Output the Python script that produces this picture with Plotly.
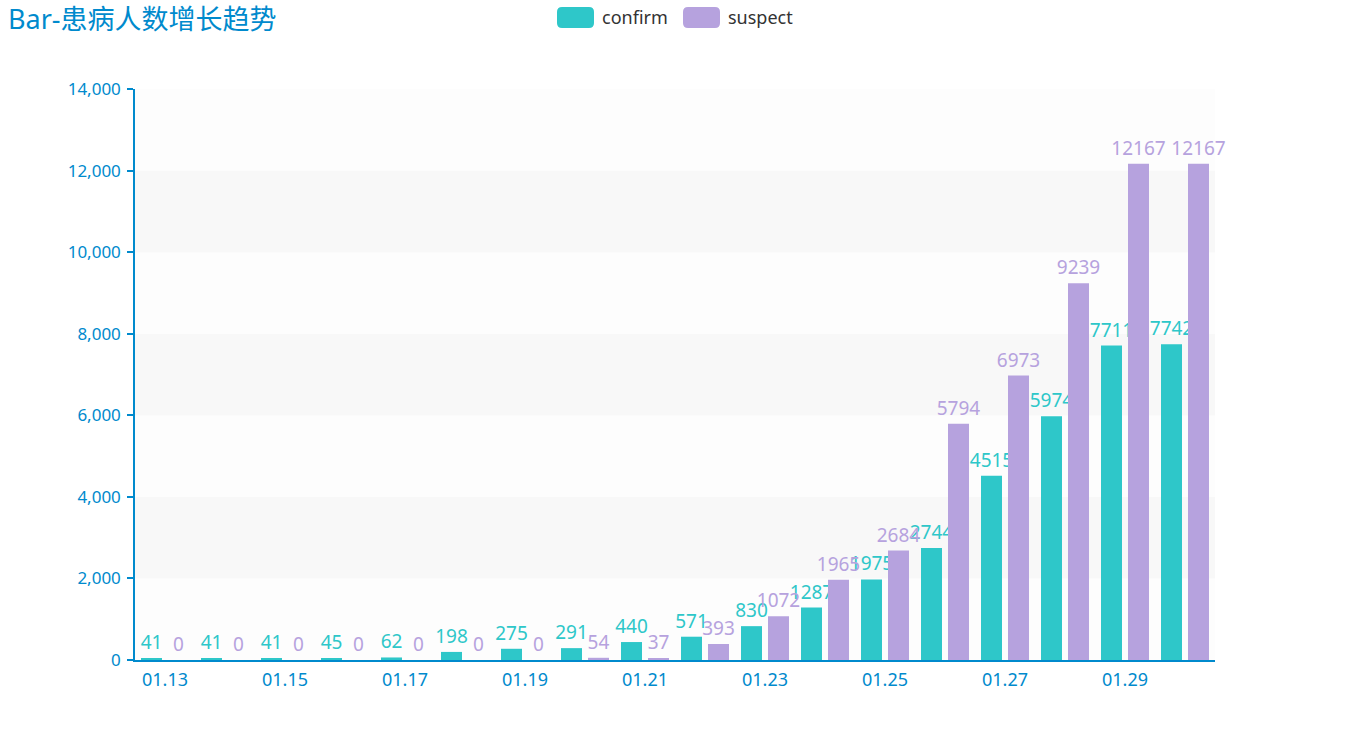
import plotly.graph_objects as go

categories = ["01.13", "01.14", "01.15", "01.16", "01.17", "01.18", "01.19", "01.20", "01.21",
              "01.22", "01.23", "01.24", "01.25", "01.26", "01.27", "01.28", "01.29", "01.30"]
confirm = [41, 41, 41, 45, 62, 198, 275, 291, 440, 571, 830, 1287, 1975, 2744, 4515, 5974, 7711, 7742]
suspect = [0, 0, 0, 0, 0, 0, 0, 54, 37, 393, 1072, 1965, 2684, 5794, 6973, 9239, 12167, 12167]
y_ticks = [0, 2000, 4000, 6000, 8000, 10000, 12000, 14000]

C_CONFIRM = "#2ec7c9"
C_SUSPECT = "#b6a2de"
AXIS = "#008acd"
FONT = "Noto Sans, Noto Sans CJK SC, sans-serif"

W, H = 1350, 750
L, R, T, B = 135, 135, 89, 90

fig = go.Figure()
for name, vals, col in [("confirm", confirm, C_CONFIRM), ("suspect", suspect, C_SUSPECT)]:
    fig.add_trace(go.Bar(
        x=categories, y=vals, name=name, marker=dict(color=col, line=dict(width=0)),
        text=[str(v) for v in vals], textposition="outside", constraintext="none",
        textfont=dict(color=col, size=19, family=FONT), cliponaxis=False, showlegend=False,
    ))

# alternating split areas
shapes = []
for i in range(len(y_ticks) - 1):
    shapes.append(dict(type="rect", xref="paper", yref="y", x0=0, x1=1,
                       y0=y_ticks[i], y1=y_ticks[i + 1], layer="below", line=dict(width=0),
                       fillcolor="#f8f8f8" if i % 2 == 1 else "#fdfdfd"))

def px_x(p):
    return (p - L) / (W - L - R)

def px_y(p):
    return (H - B - p) / (H - T - B)

annotations = []
legend_items = [("confirm", C_CONFIRM, 557), ("suspect", C_SUSPECT, 683)]
for name, col, x0 in legend_items:
    w, h, r = 37, 21, 5
    path = (f"M {r} 0 L {w-r} 0 Q {w} 0 {w} {r} L {w} {h-r} Q {w} {h} {w-r} {h} "
            f"L {r} {h} Q 0 {h} 0 {h-r} L 0 {r} Q 0 0 {r} 0 Z")
    shapes.append(dict(type="path", xref="paper", yref="paper", xsizemode="pixel", ysizemode="pixel",
                       xanchor=px_x(x0), yanchor=px_y(7 + h), path=path,
                       fillcolor=col, line=dict(width=0)))
    annotations.append(dict(xref="paper", yref="paper", x=px_x(x0 + 43), y=px_y(17),
                            xanchor="left", yanchor="middle", showarrow=False, text=name,
                            font=dict(size=18, color="#333333", family=FONT)))

fig.update_layout(
    width=W, height=H, margin=dict(l=L, r=R, t=T, b=B),
    paper_bgcolor="white", plot_bgcolor="white",
    barmode="group", bargap=0.1, bargroupgap=0.222,
    title=dict(text="Bar-患病人数增长趋势", x=8 / W, xref="container", xanchor="left",
               y=1 - 20 / H, yref="container", yanchor="middle",
               font=dict(size=27, color=AXIS, family=FONT)),
    font=dict(family=FONT),
    shapes=shapes, annotations=annotations,
    xaxis=dict(type="category", categoryorder="array", categoryarray=categories,
               tickvals=categories[::2], ticks="", showline=True, linecolor=AXIS, linewidth=1.5,
               tickfont=dict(size=18, color=AXIS), showgrid=False, zeroline=False,
               ticklabelstandoff=3, range=[-0.5, len(categories) - 0.5]),
    xaxis2=dict(overlaying="x", anchor="y", side="bottom", range=[-0.5, len(categories) - 0.5],
                tickvals=list(range(1, len(categories), 2)), showticklabels=False,
                ticks="outside", ticklen=6, tickcolor=AXIS, tickwidth=1.5,
                showgrid=False, zeroline=False, showline=False),
    yaxis=dict(range=[0, 14000], tickvals=y_ticks, tickformat=",d", showline=True, linecolor=AXIS,
               linewidth=1.5, ticks="outside", ticklen=6, tickcolor=AXIS, tickwidth=1.5,
               tickfont=dict(size=17, color=AXIS), showgrid=False, zeroline=False,
               ticklabelstandoff=3),
)

fig.write_html("out.html", config={"displayModeBar": False},
               post_script="document.body.style.margin='0';document.body.style.overflow='hidden';")
